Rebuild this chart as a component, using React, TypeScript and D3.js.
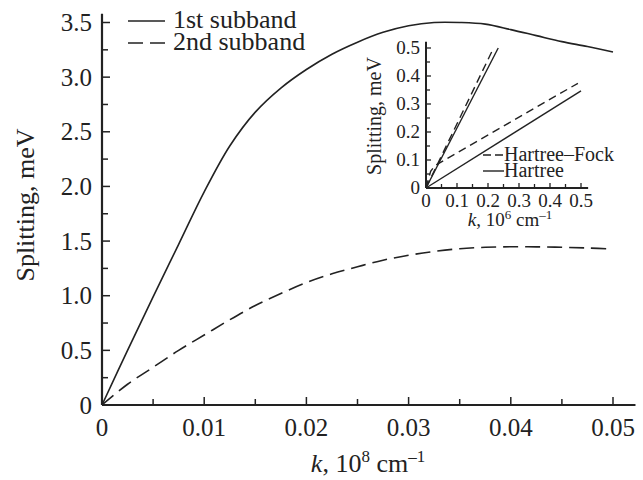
import { useEffect, useRef } from 'react';
import * as d3 from 'd3';

// main panel: spin splitting vs k (units of 10^8 cm^-1)
const kMain = [0, 0.0025, 0.005, 0.0075, 0.01, 0.0125, 0.015, 0.0175, 0.02, 0.0225, 0.025,
  0.0275, 0.03, 0.0325, 0.035, 0.0375, 0.04, 0.0425, 0.045, 0.0475, 0.05];
const subband1 = [0, 0.5, 0.99, 1.47, 1.95, 2.37, 2.68, 2.9, 3.07, 3.21, 3.32,
  3.41, 3.47, 3.5, 3.5, 3.485, 3.435, 3.38, 3.325, 3.28, 3.23];
const subband2 = [0, 0.19, 0.345, 0.5, 0.64, 0.78, 0.91, 1.02, 1.12, 1.2, 1.265,
  1.325, 1.37, 1.405, 1.43, 1.443, 1.448, 1.447, 1.443, 1.437, 1.427];

const mainXTicks = [0, 0.01, 0.02, 0.03, 0.04, 0.05];
const mainXLabels = ['0', '0.01', '0.02', '0.03', '0.04', '0.05'];
const mainYTicks = [0, 0.5, 1.0, 1.5, 2.0, 2.5, 3.0, 3.5];
const mainYLabels = ['0', '0.5', '1.0', '1.5', '2.0', '2.5', '3.0', '3.5'];

// inset: small k (units of 10^6 cm^-1)
const hartreeSteepK = [0, 0.233];
const hartreeSteep = [0, 0.5];
const hfSteepK = [0, 0.218];
const hfSteep = [0, 0.5];
const hartreeShallowK = [0, 0.5];
const hartreeShallow = [0, 0.347];
const hfShallowK = [0, 0.015, 0.03, 0.49];
const hfShallow = [0, 0.06, 0.081, 0.374];

const insetTicks = [0, 0.1, 0.2, 0.3, 0.4, 0.5];
const insetLabels = ['0', '0.1', '0.2', '0.3', '0.4', '0.5'];

const FONT = '"Liberation Serif", "Times New Roman", serif';

function App() {
  const ref = useRef<SVGSVGElement>(null);

  useEffect(() => {
    const svg = d3.select(ref.current);
    svg.selectAll('*').remove();

    // ---------- main plot ----------
    const x = d3.scaleLinear().domain([0, 0.05]).range([102, 613]);
    const y = d3.scaleLinear().domain([0, 3.5]).range([405, 22.5]);

    const g = svg.append('g');

    // axes lines
    g.append('line')
      .attr('x1', x(0)).attr('x2', x(0.0522))
      .attr('y1', y(0)).attr('y2', y(0))
      .attr('stroke', '#222').attr('stroke-width', 2.2);
    g.append('line')
      .attr('x1', x(0)).attr('x2', x(0))
      .attr('y1', y(0)).attr('y2', y(3.58))
      .attr('stroke', '#222').attr('stroke-width', 2.2);

    // x ticks (inward, pointing up)
    const xMinor = d3.range(0, 0.0501, 0.005);
    g.selectAll('.xt')
      .data(xMinor)
      .enter()
      .append('line')
      .attr('x1', (d) => x(d)).attr('x2', (d) => x(d))
      .attr('y1', y(0))
      .attr('y2', (d, i) => y(0) - (i % 2 === 0 ? 8 : 6))
      .attr('stroke', '#222').attr('stroke-width', 1.5);

    g.selectAll('.xl')
      .data(mainXTicks)
      .enter()
      .append('text')
      .attr('x', (d) => x(d))
      .attr('y', 436)
      .attr('text-anchor', 'middle')
      .attr('font-family', FONT)
      .attr('font-size', 25)
      .attr('fill', '#222')
      .text((d, i) => mainXLabels[i]);

    // y ticks (inward, pointing right)
    const yMinor = d3.range(0, 3.501, 0.25);
    g.selectAll('.yt')
      .data(yMinor)
      .enter()
      .append('line')
      .attr('x1', x(0))
      .attr('x2', (d, i) => x(0) + (i % 2 === 0 ? 8 : 6))
      .attr('y1', (d) => y(d)).attr('y2', (d) => y(d))
      .attr('stroke', '#222').attr('stroke-width', 1.5);

    g.selectAll('.yl')
      .data(mainYTicks)
      .enter()
      .append('text')
      .attr('x', 92)
      .attr('y', (d) => y(d))
      .attr('dy', '0.34em')
      .attr('text-anchor', 'end')
      .attr('font-family', FONT)
      .attr('font-size', 25)
      .attr('fill', '#222')
      .text((d, i) => mainYLabels[i]);

    // axis titles
    g.append('text')
      .attr('transform', 'translate(34,205) rotate(-90)')
      .attr('text-anchor', 'middle')
      .attr('font-family', FONT)
      .attr('font-size', 26)
      .attr('fill', '#222')
      .text('Splitting, meV');

    const xt = g.append('text')
      .attr('x', 368)
      .attr('y', 472)
      .attr('text-anchor', 'middle')
      .attr('font-family', FONT)
      .attr('font-size', 26)
      .attr('fill', '#222');
    xt.append('tspan').attr('font-style', 'italic').text('k');
    xt.append('tspan').text(', 10');
    xt.append('tspan').attr('dy', -10).attr('font-size', 17).text('8');
    xt.append('tspan').attr('dy', 10).text(' cm');
    xt.append('tspan').attr('dy', -10).attr('font-size', 17).text('–1');

    // curves
    const line = d3.line<number>()
      .x((d, i) => x(kMain[i]))
      .y((d) => y(d))
      .curve(d3.curveCatmullRom.alpha(0.5));

    g.append('path')
      .attr('d', line(subband1))
      .attr('fill', 'none')
      .attr('stroke', '#222')
      .attr('stroke-width', 1.6);

    g.append('path')
      .attr('d', line(subband2))
      .attr('fill', 'none')
      .attr('stroke', '#222')
      .attr('stroke-width', 1.6)
      .attr('stroke-dasharray', '15,7');

    // legend
    const legend = [
      { label: '1st subband', dash: null, y: 21 },
      { label: '2nd subband', dash: '15,7', y: 43 },
    ];
    legend.forEach((l) => {
      g.append('line')
        .attr('x1', 128).attr('x2', 165)
        .attr('y1', l.y).attr('y2', l.y)
        .attr('stroke', '#222').attr('stroke-width', 1.6)
        .attr('stroke-dasharray', l.dash);
      g.append('text')
        .attr('x', 173)
        .attr('y', l.y + 7)
        .attr('font-family', FONT)
        .attr('font-size', 26)
        .attr('fill', '#222')
        .text(l.label);
    });

    // ---------- inset ----------
    const ix = d3.scaleLinear().domain([0, 0.5]).range([426, 581]);
    const iy = d3.scaleLinear().domain([0, 0.5]).range([188, 48]);
    const ig = svg.append('g');

    ig.append('line')
      .attr('x1', ix(0)).attr('x2', ix(0.523))
      .attr('y1', iy(0)).attr('y2', iy(0))
      .attr('stroke', '#222').attr('stroke-width', 2);
    ig.append('line')
      .attr('x1', ix(0)).attr('x2', ix(0))
      .attr('y1', iy(0)).attr('y2', iy(0.522))
      .attr('stroke', '#222').attr('stroke-width', 2);

    const iMinor = d3.range(0, 0.501, 0.05);
    ig.selectAll('.ixt')
      .data(iMinor)
      .enter()
      .append('line')
      .attr('x1', (d) => ix(d)).attr('x2', (d) => ix(d))
      .attr('y1', iy(0))
      .attr('y2', (d, i) => iy(0) - (i % 2 === 0 ? 5 : 4))
      .attr('stroke', '#222').attr('stroke-width', 1.3);
    ig.selectAll('.iyt')
      .data(iMinor)
      .enter()
      .append('line')
      .attr('x1', ix(0))
      .attr('x2', (d, i) => ix(0) + (i % 2 === 0 ? 5 : 4))
      .attr('y1', (d) => iy(d)).attr('y2', (d) => iy(d))
      .attr('stroke', '#222').attr('stroke-width', 1.3);

    ig.selectAll('.ixl')
      .data(insetTicks)
      .enter()
      .append('text')
      .attr('x', (d) => ix(d))
      .attr('y', 207)
      .attr('text-anchor', 'middle')
      .attr('font-family', FONT)
      .attr('font-size', 19)
      .attr('fill', '#222')
      .text((d, i) => insetLabels[i]);
    ig.selectAll('.iyl')
      .data(insetTicks)
      .enter()
      .append('text')
      .attr('x', 420)
      .attr('y', (d) => iy(d))
      .attr('dy', '0.34em')
      .attr('text-anchor', 'end')
      .attr('font-family', FONT)
      .attr('font-size', 19)
      .attr('fill', '#222')
      .text((d, i) => insetLabels[i]);

    ig.append('text')
      .attr('transform', 'translate(381,116) rotate(-90)')
      .attr('text-anchor', 'middle')
      .attr('font-family', FONT)
      .attr('font-size', 20)
      .attr('fill', '#222')
      .text('Splitting, meV');

    const ixt = ig.append('text')
      .attr('x', 510)
      .attr('y', 226)
      .attr('text-anchor', 'middle')
      .attr('font-family', FONT)
      .attr('font-size', 19)
      .attr('fill', '#222');
    ixt.append('tspan').attr('font-style', 'italic').text('k');
    ixt.append('tspan').text(', 10');
    ixt.append('tspan').attr('dy', -7).attr('font-size', 13).text('6');
    ixt.append('tspan').attr('dy', 7).text(' cm');
    ixt.append('tspan').attr('dy', -7).attr('font-size', 13).text('–1');

    const insetLines = [
      { k: hartreeSteepK, v: hartreeSteep, dash: null },
      { k: hfSteepK, v: hfSteep, dash: '8,5' },
      { k: hartreeShallowK, v: hartreeShallow, dash: null },
      { k: hfShallowK, v: hfShallow, dash: '8,5' },
    ];
    insetLines.forEach((s) => {
      const l = d3.line<number>()
        .x((d, i) => ix(s.k[i]))
        .y((d) => iy(d));
      ig.append('path')
        .attr('d', l(s.v))
        .attr('fill', 'none')
        .attr('stroke', '#222')
        .attr('stroke-width', 1.4)
        .attr('stroke-dasharray', s.dash);
    });

    const ilegend = [
      { label: 'Hartree–Fock', dash: '8,4', y: 155 },
      { label: 'Hartree', dash: null, y: 171 },
    ];
    ilegend.forEach((l) => {
      ig.append('line')
        .attr('x1', 483).attr('x2', 504)
        .attr('y1', l.y).attr('y2', l.y)
        .attr('stroke', '#222').attr('stroke-width', 1.4)
        .attr('stroke-dasharray', l.dash);
      ig.append('text')
        .attr('x', 504)
        .attr('y', l.y + 6)
        .attr('font-family', FONT)
        .attr('font-size', 20)
        .attr('fill', '#222')
        .text(l.label);
    });
  }, []);

  return (
    <svg
      ref={ref}
      width={643}
      height={480}
      style={{ position: 'absolute', left: 0, top: 0, display: 'block', background: '#fff' }}
    />
  );
}

export default App;
